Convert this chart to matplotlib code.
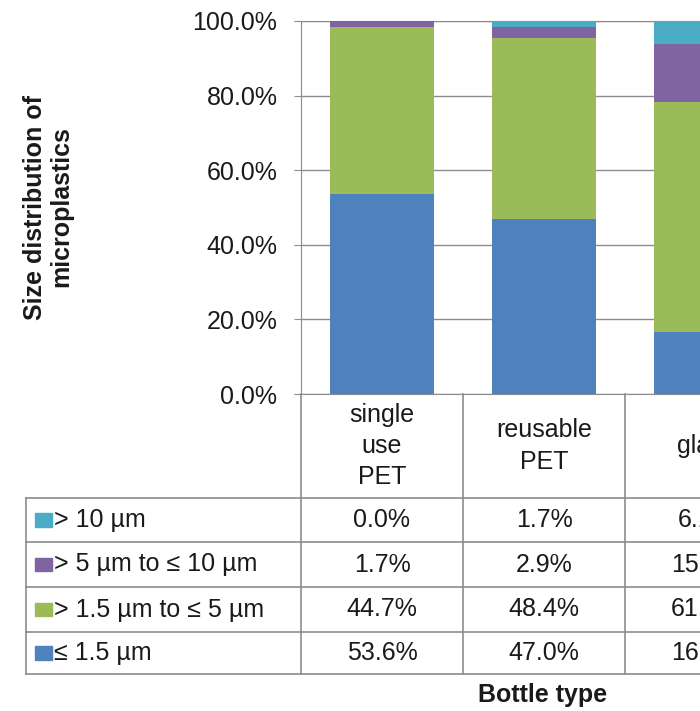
import matplotlib.pyplot as plt
import matplotlib.transforms as mtransforms
from matplotlib.patches import Rectangle
from matplotlib.ticker import FuncFormatter

plt.rcParams['font.family'] = ['Liberation Sans', 'DejaVu Sans']

# ---------------------------------------------------------------------------
# Data (fractions of total, bottom to top of each stack)
# ---------------------------------------------------------------------------
bottle_types = ['single\nuse\nPET', 'reusable\nPET', 'glass']
size_classes = ['≤ 1.5 µm', '> 1.5 µm to ≤ 5 µm', '> 5 µm to ≤ 10 µm', '> 10 µm']
le_1_5   = [53.6, 47.0, 16.6]
gt_1_5   = [44.7, 48.4, 61.7]
gt_5     = [1.7, 2.9, 15.6]
gt_10    = [0.0, 1.7, 6.1]
series   = [le_1_5, gt_1_5, gt_5, gt_10]
colors   = ['#4F81BD', '#9BBB59', '#8064A2', '#4BACC6']

GRID = '#8c8c8c'
TXT = '#1a1a1a'
FS = 18

fig = plt.figure(figsize=(7, 7.11), dpi=100)
W, H = 700, 711
# plot area in pixels: left 301, top 21, bottom 394; 162 px per category
ax = fig.add_axes([301 / W, 1 - 394 / H, 3 * 162 / W, 373 / H])

x = list(range(len(bottle_types)))
bottom = [0, 0, 0]
for vals, c in zip(series, colors):
    frac = [v / 100 for v in vals]
    ax.bar(x, frac, width=0.64, bottom=bottom, color=c, zorder=3)
    bottom = [b + f for b, f in zip(bottom, frac)]

ax.set_xlim(-0.5, 2.5)
ax.set_ylim(0, 1)
ax.set_yticks([0, 0.2, 0.4, 0.6, 0.8, 1.0])
ax.yaxis.set_major_formatter(FuncFormatter(lambda v, _: f'{v * 100:.1f}%'))
ax.tick_params(axis='y', direction='out', length=5, color=GRID, pad=12,
               labelsize=FS, labelcolor=TXT)
ax.set_xticks([])
ax.grid(axis='y', color=GRID, linewidth=1, zorder=0)
for s in ['left', 'top']:
    ax.spines[s].set_color(GRID)
ax.spines['right'].set_visible(False)
ax.spines['bottom'].set_color(GRID)

# ---------------------------------------------------------------------------
# Data table below the plot
# ---------------------------------------------------------------------------
tr = mtransforms.blended_transform_factory(ax.transData, ax.transAxes)
row_px = [498, 542, 587, 632, 674]
row_y = [(394 - p) / 373 for p in row_px]
x_left = -0.5 - (301 - 26) / 162
x_right = 2.5


def line(xs, ys):
    ax.plot(xs, ys, color=GRID, linewidth=1.2, transform=tr, clip_on=False)


for y in row_y:
    line([x_left, x_right], [y, y])
for xv in [-0.5, 0.5, 1.5]:
    line([xv, xv], [0, row_y[-1]])
line([x_left, x_left], [row_y[0], row_y[-1]])

for i, name in enumerate(bottle_types):
    ax.text(i, row_y[0] / 2, name, transform=tr, ha='center', va='center',
            fontsize=FS, color=TXT, linespacing=1.38, clip_on=False)

rows_top_down = list(zip(size_classes, series, colors))[::-1]
sw_x = -0.5 - (301 - 35) / 162
lab_x = -0.5 - (301 - 54) / 162
for r, (label, vals, c) in enumerate(rows_top_down):
    yc = (row_y[r] + row_y[r + 1]) / 2
    ax.add_patch(Rectangle((sw_x, yc - 0.018), 17 / 162, 0.036, transform=tr,
                           color=c, clip_on=False))
    ax.text(lab_x, yc, label, transform=tr, ha='left', va='center',
            fontsize=FS, color=TXT, clip_on=False)
    for i, v in enumerate(vals):
        ax.text(i, yc, f'{v:.1f}%', transform=tr, ha='center', va='center',
                fontsize=FS, color=TXT, clip_on=False)

fig.text(543 / W, 1 - 695 / H, 'Bottle type', ha='center', va='center',
         fontsize=FS, fontweight='bold', color=TXT)
fig.text(48 / W, 1 - 207 / H, 'Size distribution of\nmicroplastics',
         ha='center', va='center', rotation=90, fontsize=FS,
         fontweight='bold', color=TXT, linespacing=1.1)

fig.savefig('out.png', dpi=100)
